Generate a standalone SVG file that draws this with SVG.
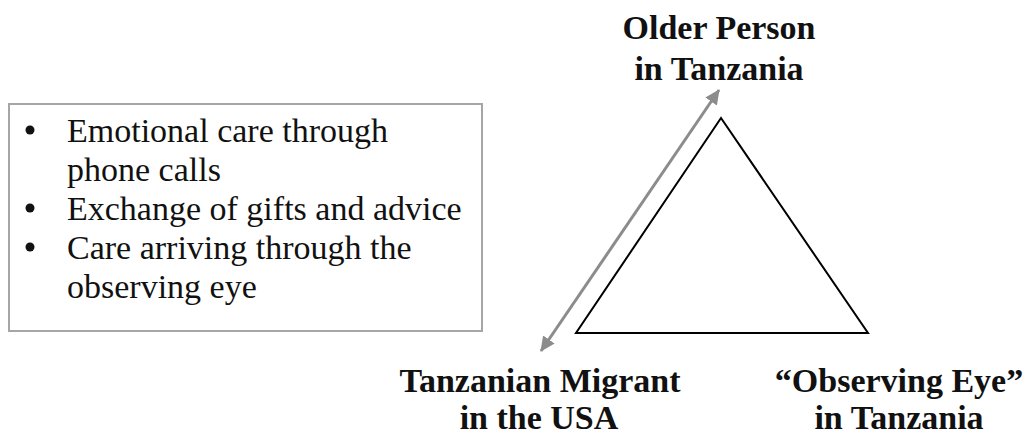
<svg xmlns="http://www.w3.org/2000/svg" width="1029" height="436" viewBox="0 0 1029 436">
  <style>
    .head { font-family: "Liberation Serif", "Times New Roman", serif; font-weight: bold; font-size: 34px; fill: #111; text-anchor: middle; }
    .body { font-family: "Liberation Serif", "Times New Roman", serif; font-size: 34px; fill: #111; }
    .conn { stroke: #8c8c8c; stroke-width: 3; fill: none; }
  </style>
  <defs>
    <marker id="ah" markerUnits="userSpaceOnUse" markerWidth="16" markerHeight="14" refX="14" refY="7" orient="auto-start-reverse">
      <path d="M0,0 L15,7 L0,14 Z" fill="#8c8c8c"/>
    </marker>
  </defs>
  <rect width="1029" height="436" fill="#fff"/>

  <g id="list-box">
    <rect x="9" y="104" width="473" height="227" fill="#fff" stroke="#a6a6a6" stroke-width="2"/>
    <circle cx="30" cy="130" r="4.5" fill="#111"/>
    <text class="body" x="67" y="142">Emotional care through</text>
    <text class="body" x="67" y="181">phone calls</text>
    <circle cx="30" cy="208" r="4.5" fill="#111"/>
    <text class="body" x="67" y="220">Exchange of gifts and advice</text>
    <circle cx="30" cy="247" r="4.5" fill="#111"/>
    <text class="body" x="67" y="259">Care arriving through the</text>
    <text class="body" x="67" y="298">observing eye</text>
  </g>

  <g id="triangle">
    <polygon points="721,118 576,333 868,333" fill="none" stroke="#000" stroke-width="2" stroke-linejoin="miter"/>
  </g>

  <g id="node-older-person">
    <text class="head" x="719" y="39">Older Person</text>
    <text class="head" x="719" y="80">in Tanzania</text>
  </g>

  <g id="node-migrant">
    <text class="head" x="540" y="392">Tanzanian Migrant</text>
    <text class="head" x="539" y="429">in the USA</text>
  </g>

  <g id="node-observing-eye">
    <text class="head" x="899" y="392">“Observing Eye”</text>
    <text class="head" x="899" y="429">in Tanzania</text>
  </g>

  <g id="connectors">
    <line class="conn" x1="541" y1="351" x2="719" y2="90" marker-start="url(#ah)" marker-end="url(#ah)"/>
  </g>
</svg>
